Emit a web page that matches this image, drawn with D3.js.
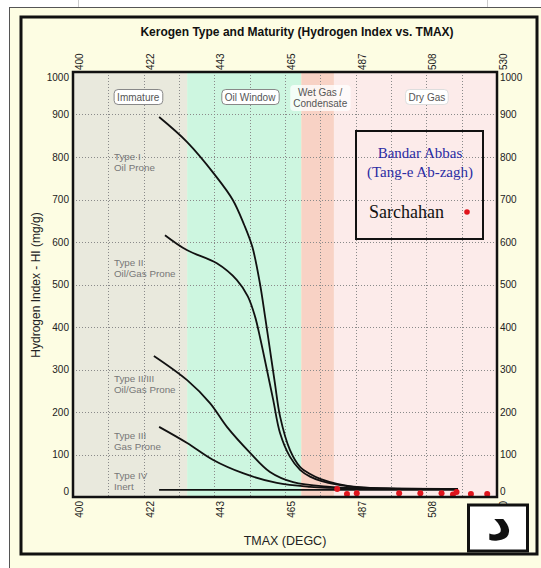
<!DOCTYPE html>
<html>
<head>
<meta charset="utf-8">
<script src="https://cdn.jsdelivr.net/npm/d3@7"></script>
<style>
  body { margin: 0; background: #fff; }
  svg { display: block; font-family: "Liberation Sans", Arial, sans-serif; }
</style>
</head>
<body>
<svg id="chart" width="541" height="568"></svg>
<script>
// chart values
const xTickLabels = ["400", "422", "443", "465", "487", "508", "530"];
const yTicks = [0, 100, 200, 300, 400, 500, 600, 700, 800, 900, 1000];

// maturity zones (TMAX ranges)
const zones = [
  { name: "Immature", from: 400, to: 435, color: "#e9e9dd" },
  { name: "Oil Window", from: 435, to: 470, color: "#cdf6e0" },
  { name: "Wet Gas", from: 470, to: 480, color: "#f8d2c5" },
  { name: "Dry Gas", from: 480, to: 530, color: "#fcebea" }
];
const zoneLabels = [
  { name: "Immature", lines: ["Immature"], at: 420, boxed: true },
  { name: "Oil Window", lines: ["Oil Window"], at: 454.3, boxed: true },
  { name: "Wet Gas", lines: ["Wet Gas /", "Condensate"], at: 475.8, boxed: false },
  { name: "Dry Gas", lines: ["Dry Gas"], at: 508.5, boxed: true }
];

// kerogen type curves [TMAX, HI]
const typeI = [[426.4, 894], [435, 835], [443.5, 758], [449, 699], [452.5, 640], [455, 588], [457.3, 503],
  [458.9, 424], [460.4, 346], [461.9, 268], [463.5, 189], [466.5, 111], [469.6, 71], [472.7, 54],
  [476, 42], [481, 31], [488, 23], [496, 20], [518, 19]];
const typeII = [[428.2, 616], [434.9, 581], [444.1, 550], [450.2, 511], [453.6, 472], [455.8, 425],
  [457.5, 370], [459.9, 283], [461.4, 228], [463.5, 150], [466.5, 95], [469.6, 64], [472.7, 48],
  [476, 38], [481, 29], [488, 22], [496, 20], [518, 19]];
const typeII_III = [[424.8, 332], [435, 275], [442, 221], [447.2, 165], [454.3, 104], [460.4, 59],
  [467.5, 35], [478.8, 24], [491, 20], [518, 19]];
const typeIII = [[426.4, 165], [435, 127], [443, 87], [452.1, 56], [462.5, 33], [472.7, 24],
  [485, 20], [518, 19]];
const typeIV = [[426.4, 17], [518, 17]];

const typeLabels = [
  { lines: ["Type I", "Oil Prone"], hi: 792 },
  { lines: ["Type II", "Oil/Gas Prone"], hi: 544 },
  { lines: ["Type II/III", "Oil/Gas Prone"], hi: 270 },
  { lines: ["Type III", "Gas Prone"], hi: 136 },
  { lines: ["Type IV", "Inert"], hi: 42 }
];

// Sarchahan samples [TMAX, HI]
const samples = [[481, 19], [484, 7], [487, 9], [500, 9], [506.5, 9], [513, 9], [516.5, 6],
  [517.6, 12], [522, 7], [527, 7]];

const svg = d3.select("#chart");
const W = 541, H = 568;
const plot = { left: 73, top: 72, right: 497, bottom: 497 };

const x = d3.scaleLinear().domain([400, 530]).range([plot.left, plot.right]);
const y = d3.scaleLinear().domain([0, 1000]).range([plot.bottom, plot.top]);
const xTickVals = xTickLabels.map((d, i) => 400 + i * 130 / 6);
const xGridVals = d3.range(13).map(i => 400 + i * 130 / 12);

// page background and frames
svg.append("rect").attr("width", W).attr("height", H).attr("fill", "#fff");
svg.append("line").attr("x1", 78.5).attr("x2", 78.5).attr("y1", 0).attr("y2", 7).attr("stroke", "#ccc");
svg.append("line").attr("x1", 487.5).attr("x2", 487.5).attr("y1", 0).attr("y2", 7).attr("stroke", "#ccc");
svg.append("rect")
  .attr("x", 9.5).attr("y", 7.5).attr("width", 545).attr("height", 575)
  .attr("fill", "#fdfde3").attr("stroke", "#555").attr("stroke-width", 1);
svg.append("rect")
  .attr("x", 21).attr("y", 17).attr("width", 516).attr("height", 537)
  .attr("fill", "none").attr("stroke", "#111").attr("stroke-width", 3);

// title
svg.append("text")
  .attr("x", 297).attr("y", 36)
  .attr("text-anchor", "middle")
  .attr("font-size", 12).attr("font-weight", "bold").attr("fill", "#111")
  .text("Kerogen Type and Maturity (Hydrogen Index vs. TMAX)");

// zones
svg.append("g").selectAll("rect")
  .data(zones)
  .join("rect")
  .attr("x", d => x(d.from))
  .attr("y", plot.top)
  .attr("width", d => x(d.to) - x(d.from))
  .attr("height", plot.bottom - plot.top)
  .attr("fill", d => d.color);

// grid
const grid = svg.append("g")
  .attr("stroke", "#8a8a8a").attr("stroke-width", 1).attr("stroke-dasharray", "1,2");
grid.selectAll("line.v")
  .data(xGridVals.slice(1, -1))
  .join("line").attr("class", "v")
  .attr("x1", d => Math.round(x(d)) + 0.5).attr("x2", d => Math.round(x(d)) + 0.5)
  .attr("y1", plot.top).attr("y2", plot.bottom);
grid.selectAll("line.h")
  .data(yTicks.slice(1, -1))
  .join("line").attr("class", "h")
  .attr("x1", plot.left).attr("x2", plot.right)
  .attr("y1", d => Math.round(y(d)) + 0.5).attr("y2", d => Math.round(y(d)) + 0.5);

// zone labels
const zl = svg.append("g").selectAll("g")
  .data(zoneLabels)
  .join("g")
  .attr("transform", d => `translate(${x(d.at)},0)`);
zl.each(function (d) {
  const g = d3.select(this);
  const n = d.lines.length;
  const t = g.append("text")
    .attr("text-anchor", "middle")
    .attr("font-size", 10).attr("fill", "#555");
  d.lines.forEach((s, i) => {
    t.append("tspan").attr("x", 0).attr("y", n === 1 ? 100.5 : 96 + i * 11).text(s);
  });
  const bb = t.node().getBBox();
  g.insert("rect", "text")
    .attr("x", bb.x - 3).attr("y", bb.y - 2)
    .attr("width", bb.width + 6).attr("height", bb.height + 4)
    .attr("rx", 4)
    .attr("fill", "#fff").attr("fill-opacity", d.boxed ? 1 : 0.75)
    .attr("stroke", d.boxed ? (d.name === "Dry Gas" ? "#ddd" : "#888") : "none")
    .attr("stroke-width", 1);
});

// type labels
const tl = svg.append("g")
  .attr("font-size", 9.8).attr("fill", "#777");
typeLabels.forEach(d => {
  const t = tl.append("text");
  d.lines.forEach((s, i) => {
    t.append("tspan").attr("x", 114).attr("y", y(d.hi) + i * 11).text(s);
  });
});

// curves
const line = d3.line()
  .x(d => x(d[0]))
  .y(d => y(d[1]))
  .curve(d3.curveCatmullRom.alpha(0.5));
svg.append("g")
  .attr("fill", "none").attr("stroke", "#111").attr("stroke-width", 1.8)
  .selectAll("path")
  .data([typeI, typeII, typeII_III, typeIII, typeIV])
  .join("path")
  .attr("d", line);

// samples
svg.append("g").selectAll("circle")
  .data(samples)
  .join("circle")
  .attr("cx", d => x(d[0]))
  .attr("cy", d => y(d[1]))
  .attr("r", 3)
  .attr("fill", "#e0141c");

// plot border
svg.append("rect")
  .attr("x", plot.left).attr("y", plot.top)
  .attr("width", plot.right - plot.left).attr("height", plot.bottom - plot.top)
  .attr("fill", "none").attr("stroke", "#111").attr("stroke-width", 2.5);

// y tick labels, both sides
const yLab = v => (v === 1000 ? 5 : v === 0 ? -6 : 0);
const yl = svg.append("g").attr("font-size", 10).attr("fill", "#222");
yl.selectAll("text.l")
  .data(yTicks)
  .join("text").attr("class", "l")
  .attr("x", 69).attr("y", d => y(d) + yLab(d)).attr("dy", "0.35em")
  .attr("text-anchor", "end")
  .text(d => d);
yl.selectAll("text.r")
  .data(yTicks)
  .join("text").attr("class", "r")
  .attr("x", 500).attr("y", d => y(d) + yLab(d)).attr("dy", "0.35em")
  .text(d => d);

// x tick labels, top and bottom, rotated
const xl = svg.append("g").attr("font-size", 10).attr("fill", "#222");
xl.selectAll("text.t")
  .data(xTickVals)
  .join("text").attr("class", "t")
  .attr("transform", d => `translate(${x(d) + 10},70) rotate(-90)`)
  .text((d, i) => xTickLabels[i]);
xl.selectAll("text.b")
  .data(xTickVals)
  .join("text").attr("class", "b")
  .attr("transform", d => `translate(${x(d) + 10},501) rotate(-90)`)
  .attr("text-anchor", "end")
  .text((d, i) => xTickLabels[i]);

// axis titles
svg.append("text")
  .attr("transform", "translate(40,285) rotate(-90)")
  .attr("text-anchor", "middle")
  .attr("font-size", 12).attr("fill", "#222")
  .text("Hydrogen Index - HI (mg/g)");
svg.append("text")
  .attr("x", 285).attr("y", 545)
  .attr("text-anchor", "middle")
  .attr("font-size", 12.5).attr("fill", "#222")
  .text("TMAX (DEGC)");

// legend
const lg = svg.append("g").attr("font-family", "'Liberation Serif', 'Times New Roman', serif");
lg.append("rect")
  .attr("x", 356).attr("y", 131).attr("width", 127).attr("height", 108)
  .attr("fill", "none").attr("stroke", "#111").attr("stroke-width", 2);
lg.append("text")
  .attr("x", 420).attr("y", 158).attr("text-anchor", "middle")
  .attr("font-size", 15).attr("fill", "#2b2ba3")
  .text("Bandar Abbas");
lg.append("text")
  .attr("x", 420).attr("y", 177).attr("text-anchor", "middle")
  .attr("font-size", 15).attr("fill", "#2b2ba3")
  .text("(Tang-e Ab-zagh)");
lg.append("text")
  .attr("x", 369).attr("y", 218)
  .attr("font-size", 18).attr("fill", "#111")
  .text("Sarchahan");
lg.append("circle")
  .attr("cx", 467).attr("cy", 212).attr("r", 2.8).attr("fill", "#e0141c");

// corner letter box
svg.append("rect")
  .attr("x", 468.5).attr("y", 505).attr("width", 59).attr("height", 46)
  .attr("fill", "#fff").attr("stroke", "#111").attr("stroke-width", 3);
svg.append("text")
  .attr("x", 499).attr("y", 540)
  .attr("text-anchor", "middle")
  .attr("font-family", "'DejaVu Sans', 'Noto Sans', sans-serif")
  .attr("font-size", 50).attr("font-weight", "bold").attr("fill", "#111")
  .text("د");
</script>
</body>
</html>
